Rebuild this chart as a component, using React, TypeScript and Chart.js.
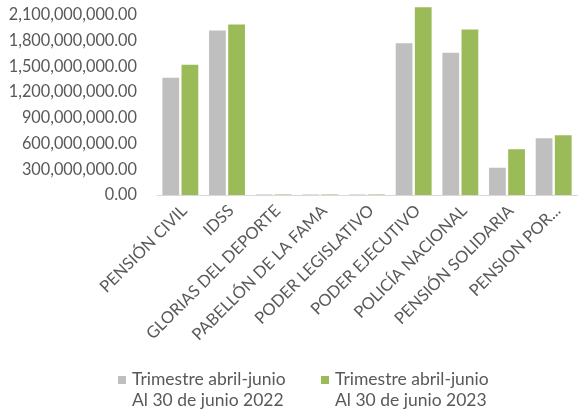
import React, { useEffect, useRef } from "react";
import { Chart, registerables } from "chart.js";

Chart.register(...registerables);

const categories = [
  "PENSIÓN CIVIL",
  "IDSS",
  "GLORIAS DEL DEPORTE",
  "PABELLÓN DE LA FAMA",
  "PODER LEGISLATIVO",
  "PODER EJECUTIVO",
  "POLICÍA NACIONAL",
  "PENSIÓN SOLIDARIA",
  "PENSION POR...",
];

const series2022 = [
  1380000000, 1930000000, 12000000, 12000000, 12000000, 1780000000, 1670000000, 330000000, 673000000,
];
const series2023 = [
  1530000000, 2000000000, 12000000, 12000000, 12000000, 2200000000, 1940000000, 545000000, 708000000,
];

const label2022 = ["Trimestre abril-junio", "Al 30 de junio 2022"];
const label2023 = ["Trimestre abril-junio", "Al 30 de junio 2023"];

const yTicks = [0, 300000000, 600000000, 900000000, 1200000000, 1500000000, 1800000000, 2100000000];

const FONT = "Lato, 'Open Sans', sans-serif";
const TEXT = "#595959";

export default function App() {
  const ref = useRef<HTMLCanvasElement | null>(null);

  useEffect(() => {
    if (!ref.current) return;
    const chart = new Chart(ref.current, {
      type: "bar",
      data: {
        labels: categories,
        datasets: [
          {
            label: label2022.join(" "),
            data: series2022,
            backgroundColor: "#BFBFBF",
            borderColor: "#FFFFFF",
            borderWidth: 1,
          },
          {
            label: label2023.join(" "),
            data: series2023,
            backgroundColor: "#9BBB59",
            borderColor: "#FFFFFF",
            borderWidth: 1,
          },
        ],
      },
      options: {
        responsive: false,
        animation: false,
        layout: { padding: { top: 2, left: 0, right: 1, bottom: 0 } },
        plugins: {
          legend: { display: false },
          tooltip: { enabled: false },
        },
        datasets: {
          bar: { categoryPercentage: 0.82, barPercentage: 0.98 },
        },
        scales: {
          x: {
            grid: { display: false, drawTicks: false },
            border: { display: true, color: "#D9D9D9", width: 1 },
            ticks: {
              minRotation: 45,
              maxRotation: 45,
              autoSkip: false,
              padding: 6,
              labelOffset: 4,
              color: TEXT,
              font: { family: FONT, size: 16.5 },
            },
            afterFit: (s: any) => {
              s.height = 411 - 195;
            },
          },
          y: {
            min: 0,
            max: 2250000000,
            grid: { display: false, drawTicks: false },
            border: { display: false },
            ticks: {
              padding: 20,
              autoSkip: false,
              color: TEXT,
              font: { family: FONT, size: 16.3 },
              callback: (v: any) =>
                Number(v).toLocaleString("en-US", {
                  minimumFractionDigits: 2,
                  maximumFractionDigits: 2,
                }),
            },
            afterBuildTicks: (s: any) => {
              s.ticks = yTicks.map((v) => ({ value: v }));
            },
            afterFit: (s: any) => {
              s.width = 157;
              s.paddingTop = 0;
              s.paddingBottom = 0;
            },
          },
        },
      },
    });
    return () => chart.destroy();
  }, []);

  const legendItem = (color: string, lines: string[], left: number) => (
    <div
      style={{
        position: "absolute",
        left,
        top: 368,
        display: "flex",
        alignItems: "flex-start",
        fontFamily: FONT,
        fontSize: 17.5,
        color: TEXT,
        lineHeight: "21px",
      }}
    >
      <div style={{ width: 8, height: 8, background: color, marginTop: 8, marginRight: 6 }} />
      <div>
        {lines.map((l, i) => (
          <div key={i} style={{ whiteSpace: "nowrap" }}>{l}</div>
        ))}
      </div>
    </div>
  );

  return (
    <div style={{ position: "fixed", left: 0, top: 0, width: 578, height: 411, background: "#fff" }}>
      <canvas ref={ref} width={578} height={411} style={{ position: "absolute", left: 0, top: 0 }} />
      {legendItem("#BFBFBF", label2022, 118)}
      {legendItem("#9BBB59", label2023, 321)}
    </div>
  );
}
